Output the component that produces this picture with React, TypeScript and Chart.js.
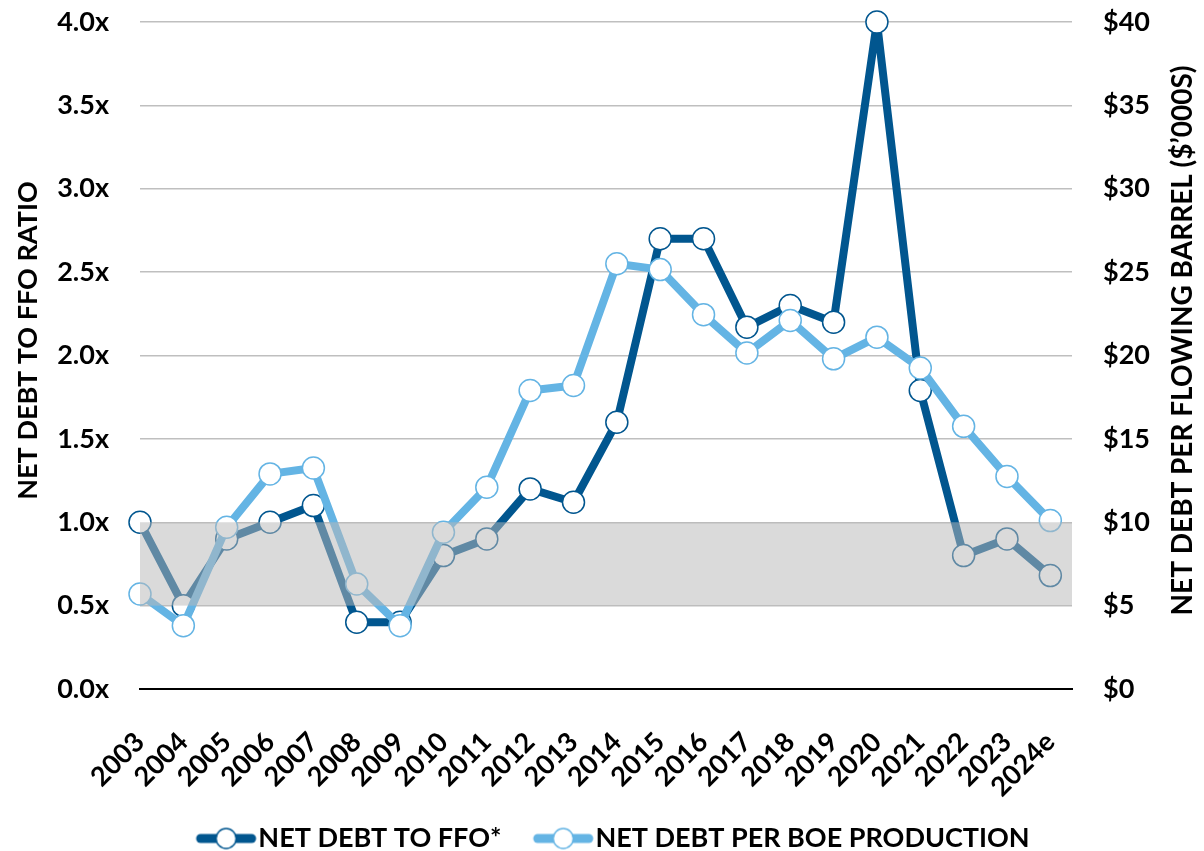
import React, { useEffect, useRef } from 'react';
import { Chart, registerables } from 'chart.js';

Chart.register(...registerables);

const years = ['2003', '2004', '2005', '2006', '2007', '2008', '2009', '2010', '2011', '2012', '2013', '2014', '2015', '2016', '2017', '2018', '2019', '2020', '2021', '2022', '2023', '2024e'];
const netDebtToFfo = [1.0, 0.5, 0.9, 1.0, 1.1, 0.4, 0.4, 0.8, 0.9, 1.2, 1.12, 1.6, 2.7, 2.7, 2.17, 2.3, 2.2, 4.0, 1.79, 0.8, 0.9, 0.68];
const netDebtPerBoe = [5.7, 3.8, 9.7, 12.9, 13.25, 6.3, 3.8, 9.4, 12.1, 17.9, 18.2, 25.5, 25.15, 22.45, 20.15, 22.1, 19.8, 21.1, 19.25, 15.75, 12.75, 10.1];
const seriesLabels = ['NET DEBT TO FFO*', 'NET DEBT PER BOE PRODUCTION'];
const leftTitle = 'NET DEBT TO FFO RATIO';
const rightTitle = 'NET DEBT PER FLOWING BARREL ($\u2019000S)';
const targetBand = [0.5, 1.0];

const DARK = '#01568F';
const LIGHT = '#64B4E4';
const GRID = '#BFBFBF';
const FONT = 'Lato';

function makeMarker(color: string): HTMLCanvasElement {
  const c = document.createElement('canvas');
  c.width = 100;
  c.height = 26;
  const g = c.getContext('2d')!;
  const a = 36.5;
  g.strokeStyle = color;
  g.lineCap = 'round';
  g.lineWidth = 9;
  g.beginPath();
  g.moveTo(a + 4.5, 13);
  g.lineTo(a + 60 - 4.5, 13);
  g.stroke();
  g.beginPath();
  g.arc(a + 30, 13, 10, 0, Math.PI * 2);
  g.fillStyle = '#fff';
  g.fill();
  g.lineWidth = 1.5;
  g.stroke();
  return c;
}

const bandPlugin = {
  id: 'targetBand',
  afterDatasetsDraw(chart: any) {
    const { ctx, chartArea, scales } = chart;
    const yTop = scales.y.getPixelForValue(targetBand[1]);
    const yBot = scales.y.getPixelForValue(targetBand[0]);
    ctx.save();
    ctx.fillStyle = 'rgba(185,185,185,0.52)';
    ctx.fillRect(chartArea.left, yTop, chartArea.right - chartArea.left, yBot - yTop);
    ctx.restore();
  },
};

const axisTitlesPlugin = {
  id: 'axisTitles',
  afterDraw(chart: any) {
    const { ctx, chartArea } = chart;
    const cy = (chartArea.top + chartArea.bottom) / 2 - 15;
    const draw = (text: string, x: number, size: number) => {
      ctx.save();
      ctx.translate(x, cy);
      ctx.rotate(-Math.PI / 2);
      ctx.textAlign = 'center';
      ctx.textBaseline = 'middle';
      ctx.fillStyle = '#000';
      ctx.font = `bold ${size}px ${FONT}`;
      ctx.fillText(text, 0, 0);
      ctx.restore();
    };
    draw(leftTitle, chart.scales.y.left + 28, 27);
    draw(rightTitle, chart.scales.y1.right - 21, 28);
  },
};

const noVerticalPadding = (scale: any) => {
  scale.paddingTop = 0;
  scale.paddingBottom = 0;
};

export default function App() {
  const ref = useRef<HTMLCanvasElement | null>(null);

  useEffect(() => {
    if (!ref.current) return;
    const markers = [makeMarker(DARK), makeMarker(LIGHT)];
    const tickFont = { family: FONT, weight: 'bold' as const, size: 27 };

    const chart = new Chart(ref.current, {
      type: 'line',
      data: {
        datasets: [
          {
            label: seriesLabels[0],
            data: years.map((_, i) => ({ x: i, y: netDebtToFfo[i] })),
            yAxisID: 'y',
            borderColor: DARK,
            borderWidth: 8,
            borderJoinStyle: 'round',
            borderCapStyle: 'round',
            pointRadius: 11,
            pointBorderWidth: 1.5,
            pointBackgroundColor: '#fff',
            pointBorderColor: DARK,
            tension: 0,
            clip: false as any,
            order: 2,
          },
          {
            label: seriesLabels[1],
            data: years.map((_, i) => ({ x: i, y: netDebtPerBoe[i] })),
            yAxisID: 'y1',
            borderColor: LIGHT,
            borderWidth: 8,
            borderJoinStyle: 'round',
            borderCapStyle: 'round',
            pointRadius: 11,
            pointBorderWidth: 1.5,
            pointBackgroundColor: '#fff',
            pointBorderColor: LIGHT,
            tension: 0,
            clip: false as any,
            order: 1,
          },
        ],
      },
      options: {
        responsive: false,
        animation: false,
        events: [],
        layout: { padding: { top: 22, left: 0, right: 0, bottom: -11 } },
        scales: {
          x: {
            type: 'linear',
            min: 0,
            max: 21.5,
            grid: { display: false },
            border: { display: true, color: '#000', width: 2 },
            afterBuildTicks: (scale: any) => {
              scale.ticks = years.map((_, i) => ({ value: i }));
            },
            afterFit: (scale: any) => {
              scale.height = 126;
            },
            ticks: {
              autoSkip: false,
              minRotation: 45,
              maxRotation: 45,
              padding: 29,
              color: '#000',
              font: tickFont,
              callback: (v: any) => years[v as number] ?? '',
            },
          },
          y: {
            position: 'left',
            min: 0,
            max: 4,
            afterFit: (scale: any) => {
              scale.width = 140;
              noVerticalPadding(scale);
            },
            grid: {
              drawTicks: false,
              lineWidth: 1.5,
              color: (c: any) => (c.tick && c.tick.value === 0 ? 'rgba(0,0,0,0)' : GRID),
            },
            border: { display: false },
            ticks: {
              stepSize: 0.5,
              padding: 31,
              color: '#000',
              font: tickFont,
              callback: (v: any) => Number(v).toFixed(1) + 'x',
            },
          },
          y1: {
            position: 'right',
            min: 0,
            max: 40,
            afterFit: (scale: any) => {
              scale.width = 132;
              noVerticalPadding(scale);
            },
            grid: { display: false, drawTicks: false },
            border: { display: false },
            ticks: {
              stepSize: 5,
              padding: 31,
              color: '#000',
              font: tickFont,
              callback: (v: any) => '$' + v,
            },
          },
        },
        plugins: {
          tooltip: { enabled: false },
          legend: {
            position: 'bottom',
            align: 'center',
            labels: {
              usePointStyle: true,
              pointStyleWidth: 70.5,
              padding: 10,
              color: '#000',
              font: { family: FONT, weight: 'bold', size: 27 },
              generateLabels: (ch: any) =>
                ch.data.datasets.map((ds: any, i: number) => ({
                  text: ds.label,
                  fillStyle: ds.borderColor,
                  strokeStyle: ds.borderColor,
                  lineWidth: 0,
                  pointStyle: markers[i],
                  hidden: false,
                  datasetIndex: i,
                  fontColor: '#000',
                })),
            },
          },
        },
      },
      plugins: [bandPlugin, axisTitlesPlugin],
    });
    return () => chart.destroy();
  }, []);

  return (
    <div style={{ position: 'fixed', left: 0, top: 0, width: 1204, height: 851, background: '#fff' }}>
      <canvas ref={ref} width={1204} height={851} style={{ display: 'block' }} />
    </div>
  );
}
